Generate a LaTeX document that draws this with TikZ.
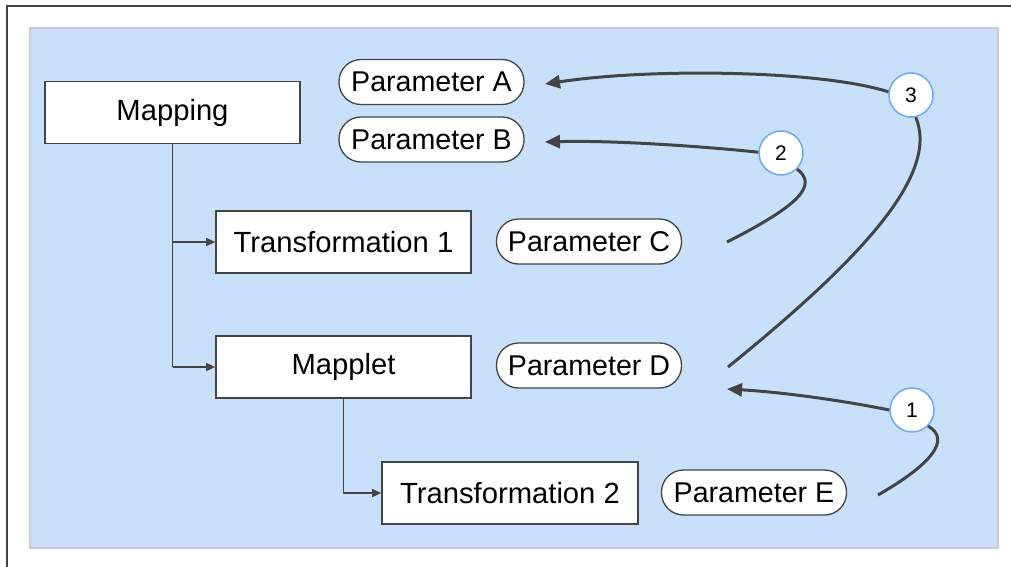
\documentclass[tikz,border=0pt]{standalone}
\usepackage{fontspec}
\setmainfont{Liberation Sans}
\usetikzlibrary{arrows.meta}
\definecolor{panel}{HTML}{C9E0FB}
\definecolor{panelEdge}{HTML}{C4CBD4}
\definecolor{ink}{HTML}{444444}
\definecolor{ring}{HTML}{6EA8F2}
\tikzset{
  x=1pt,y=-1pt,
  boxnode/.style={draw=ink,line width=1.6pt,fill=white,minimum width=255pt,minimum height=62pt,inner sep=0pt,font=\fontsize{29.2}{33}\selectfont},
  pill/.style={draw=ink,line width=1.3pt,fill=white,rounded corners=22pt,minimum width=185pt,minimum height=45pt,inner sep=0pt,font=\fontsize{28.6}{32}\selectfont},
  badge/.style={circle,draw=ring,line width=1.5pt,fill=white,minimum size=44pt,inner sep=0pt,font=\fontsize{21}{24}\selectfont},
  elbow/.style={draw=ink,line width=1.4pt,-{Triangle[length=9pt,width=8pt]}},
  flow/.style={draw=ink,line width=3pt},
  flowarr/.style={draw=ink,line width=3pt,-{Triangle[length=15pt,width=13pt]}}
}
\begin{document}
\begin{tikzpicture}
\useasboundingbox (0,0) rectangle (1011,567);
\fill[white] (0,0) rectangle (1011,567);
\draw[ink,line width=1.5pt] (7,580) -- (7,6) -- (1020,6);
\filldraw[fill=panel,draw=panelEdge,line width=1.2pt] (30,28) rectangle (998,548);

\node[boxnode] (map) at (172.5,112.5) {Mapping};
\node[boxnode] (t1) at (343.5,242) {Transformation 1};
\node[boxnode] (mp) at (343.5,367) {Mapplet};
\node[boxnode,minimum width=256pt] (t2) at (510,493) {Transformation 2};

\node[pill] (pa) at (431.5,82) {Parameter A};
\node[pill] (pb) at (431.5,139.5) {Parameter B};
\node[pill] (pc) at (589,241.5) {Parameter C};
\node[pill] (pd) at (589,365.5) {Parameter D};
\node[pill] (pe) at (754,492.5) {Parameter E};

\node[badge] (c3) at (911,95) {3};
\node[badge] (c2) at (781,153) {2};
\node[badge] (c1) at (912,410) {1};

\coordinate (m1) at (map.south |- t1.west);
\coordinate (m2) at (map.south |- mp.west);
\draw[ink,line width=1.4pt] (map.south) -- (m2);
\draw[elbow] (m1) -- (t1.west);
\draw[elbow] (m2) -- (mp.west);
\draw[elbow] (mp.south) |- (t2.west);

\coordinate (tipA) at (545,84);
\coordinate (tipB) at (545,142);
\coordinate (tipD) at (727,389);
\coordinate (fromD) at (728,367);
\coordinate (fromC) at (727,242);
\coordinate (fromE) at (878,495);

\draw[flow] (fromD) .. controls (860,260) and (940,175) .. (c3.-78);
\draw[flowarr] (c3.172) .. controls (820,70) and (650,68) .. (tipA);
\draw[flow] (fromC) .. controls (800,205) and (818,185) .. (c2.-45);
\draw[flowarr] (c2.178) .. controls (720,148) and (620,140) .. (tipB);
\draw[flow] (fromE) .. controls (930,465) and (952,440) .. (c1.-45);
\draw[flowarr] (c1.180) .. controls (840,400) and (780,392) .. (tipD);
\end{tikzpicture}
\end{document}
